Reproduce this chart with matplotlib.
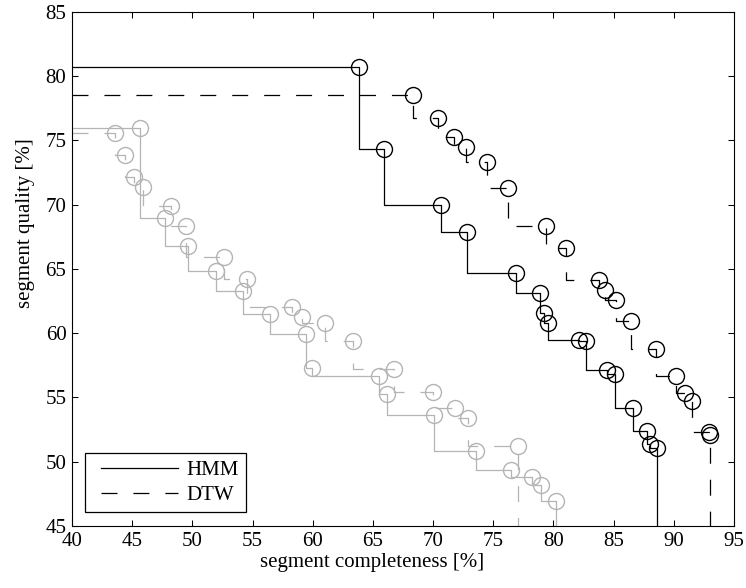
import matplotlib
matplotlib.use("Agg")
from matplotlib import pyplot as plt
from matplotlib.lines import Line2D
from matplotlib.legend_handler import HandlerLine2D

plt.rcParams['font.family'] = ['Liberation Serif', 'DejaVu Serif']
plt.rcParams['lines.scale_dashes'] = False

# HMM (black, solid)
hmm_x = [63.88, 65.95, 70.66, 72.78, 76.87, 78.88, 79.2, 79.53, 82.12, 82.68, 84.47, 85.1, 86.6, 87.79, 88.0, 88.62]
hmm_y = [80.74, 74.34, 69.98, 67.86, 64.71, 63.1, 61.55, 60.82, 59.47, 59.4, 57.14, 56.8, 54.16, 52.42, 51.38, 51.05]

# DTW (black, dashed)
dtw_x = [68.36, 70.43, 71.7, 72.73, 74.47, 76.26, 79.42, 81.07, 83.78, 84.28, 85.22, 86.41, 88.48, 90.14, 90.89, 91.47, 92.9, 93.04]
dtw_y = [78.54, 76.78, 75.27, 74.52, 73.3, 71.28, 68.37, 66.61, 64.17, 63.37, 62.59, 60.95, 58.75, 56.7, 55.37, 54.73, 52.34, 52.08]

# second set (gray, solid)
g_solid_x = [45.67, 47.74, 49.62, 51.94, 54.2, 56.48, 59.4, 59.96, 65.54, 66.15, 70.1, 73.6, 76.46, 78.23, 79.0, 80.24]
g_solid_y = [75.95, 69.0, 66.79, 64.87, 63.29, 61.5, 59.92, 57.32, 56.67, 55.25, 53.64, 50.86, 49.36, 48.84, 48.17, 46.97]

# second set (gray, dashed)
g_dash_x = [43.59, 44.42, 45.11, 45.86, 48.2, 49.45, 52.66, 54.57, 58.27, 59.1, 60.98, 63.38, 66.78, 69.96, 71.84, 72.86, 77.09]
g_dash_y = [75.56, 73.87, 72.18, 71.36, 69.93, 68.35, 65.96, 64.2, 62.07, 61.29, 60.82, 59.4, 57.19, 55.4, 54.16, 53.38, 51.23]

x_min, x_max = 40, 95
y_min, y_max = 45, 85
gray = '#b4b4b4'
dash = (0, (11.5, 11.5))
fs = 15

fig = plt.figure(figsize=(7.46, 5.88), dpi=100)
ax = fig.add_axes([72 / 746, 62 / 588, 662 / 746, 514 / 588])


def stairs(x, y, color, ls):
    # step curve: from left edge, through every point, then down to the bottom
    xs = [x_min] + x + [x[-1]]
    ys = [y[0]] + y + [y_min]
    ax.plot(xs, ys, drawstyle='steps-pre', color=color, lw=0.9, ls=ls)
    ax.plot(x, y, 'o', ms=11.5, mfc='none', mec=color, mew=1.0)


stairs(g_solid_x, g_solid_y, gray, '-')
stairs(g_dash_x, g_dash_y, gray, dash)
stairs(hmm_x, hmm_y, 'black', '-')
stairs(dtw_x, dtw_y, 'black', dash)

ax.set_xlim(x_min, x_max)
ax.set_ylim(y_min, y_max)
ax.set_xticks(range(40, 96, 5))
ax.set_yticks(range(45, 86, 5))
ax.tick_params(direction='in', length=4.5, width=0.75, top=True, right=True, labelsize=fs, pad=4)
for s in ax.spines.values():
    s.set_linewidth(0.8)

ax.set_xlabel('segment completeness [%]', fontsize=fs)
ax.set_ylabel('segment quality [%]', fontsize=fs)
ax.xaxis.set_label_coords(0.453, -0.052)
ax.yaxis.set_label_coords(-0.056, 0.59)

handles = [Line2D([], [], color='black', lw=0.9, ls='-'),
           Line2D([], [], color='black', lw=0.9, ls=dash)]
leg = ax.legend(handles, ['HMM', 'DTW'], loc='lower left', bbox_to_anchor=(0.0196, 0.027),
                borderaxespad=0, fontsize=fs, handlelength=4.13, handletextpad=0.4,
                fancybox=False, framealpha=1, edgecolor='black', borderpad=0.35,
                labelspacing=0.25, handler_map={Line2D: HandlerLine2D(xpad=0.4)})
leg.get_frame().set_linewidth(0.9)

fig.savefig('out.png', dpi=100)
